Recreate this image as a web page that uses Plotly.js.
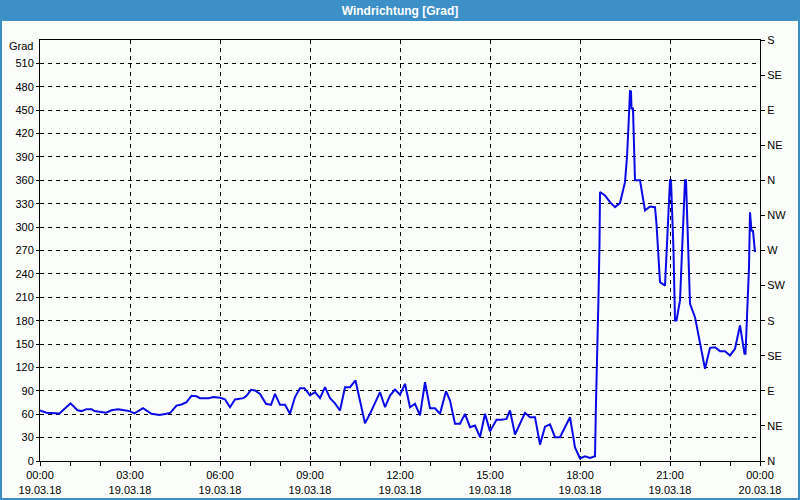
<!DOCTYPE html>
<html>
<head>
<meta charset="utf-8">
<script src="https://cdn.plot.ly/plotly-3.0.1.min.js"></script>
<style>html,body{margin:0;padding:0;background:#fbfdfb;}#chart{width:800px;height:500px;}</style>
</head>
<body>
<div id="chart"></div>
<script>
var day = '2018-03-19 ';
var times = ['00:00','00:13','00:39','01:01','01:15','01:23','01:33','01:43','01:49','02:06','02:12','02:23','02:36','02:49','02:59','03:09','03:26','03:43','03:59','04:13','04:21','04:33','04:43','04:53','05:03','05:13','05:20','05:37','05:47','06:00','06:10','06:20','06:30','06:47','06:53','07:02','07:10','07:20','07:32','07:42','07:50','08:00','08:10','08:20','08:30','08:40','08:49','09:00','09:10','09:20','09:30','09:40','09:50','10:00','10:10','10:20','10:31','10:50','11:00','11:20','11:30','11:40','11:50','12:00','12:10','12:20','12:30','12:40','12:50','13:00','13:10','13:20','13:32','13:40','13:50','14:00','14:10','14:20','14:30','14:40','14:50','15:00','15:13','15:23','15:33','15:40','15:50','16:10','16:20','16:30','16:40','16:50','17:00','17:10','17:20','17:40','17:50','18:00','18:10','18:20','18:30','18:32','18:35','18:37','18:39','18:40','18:50','19:00','19:10','19:20','19:30','19:34','19:37','19:39','19:40','19:42','19:43','19:46','19:50','20:00','20:07','20:10','20:20','20:30','20:33','20:37','20:40','20:50','20:53','20:57','21:00','21:02','21:04','21:07','21:10','21:13','21:20','21:23','21:27','21:30','21:32','21:35','21:37','21:40','21:50','22:00','22:10','22:20','22:30','22:40','22:50','23:00','23:10','23:20','23:27','23:29','23:31','23:33','23:35','23:38','23:40','23:43','23:46','23:50'];
var values = [64.8,62,61,74,65,64,66.5,66.5,64,63,62,65,66.5,65,64,61,67.7,60.5,59,60.5,62,71,72.5,75.5,83.6,83,80.6,80.6,82,81,79,69,79,80.6,83.6,91.3,90.5,86,73.4,72,86,72,72,60.5,82,93.4,93.4,84,88.3,80.6,94.7,80.6,74,64.8,94.7,94.7,103.3,48.5,60.5,88.3,69,84,91.7,85,99,69,73.4,58.4,101,67.7,67.7,60.5,89.6,77.6,47.7,47.7,60.5,43.4,45.5,30.5,60.5,38,52.9,52.9,54,64.8,34,61.8,56.2,56.2,21,44,47,30.5,30.5,56.2,17.5,3.2,6,4,6,75.5,141.8,210,278.7,345,340.6,332,325.6,330.8,357.7,390,430,452,474.5,474,452,452,360,360,334,321.4,326.5,325.6,304,265.8,229.4,225,265.8,330,360,360,330,270,180.3,180.3,206,250,298,360,360,300,250,201.7,184.5,150.4,118.3,145.2,146,140.9,140.9,135.4,144,173.9,146,137.5,137.5,174,210,248.6,319,295.7,295,268];

var xTickTimes = ['2018-03-19 00:00','2018-03-19 03:00','2018-03-19 06:00','2018-03-19 09:00','2018-03-19 12:00','2018-03-19 15:00','2018-03-19 18:00','2018-03-19 21:00','2018-03-20 00:00'];
var xTickText = ['00:00<br>19.03.18','03:00<br>19.03.18','06:00<br>19.03.18','09:00<br>19.03.18','12:00<br>19.03.18','15:00<br>19.03.18','18:00<br>19.03.18','21:00<br>19.03.18','00:00<br>20.03.18'];
var yTicks = [0,30,60,90,120,150,180,210,240,270,300,330,360,390,420,450,480,510];
var dirTicks = [0,45,90,135,180,225,270,315,360,405,450,495,540];
var dirText = ['N','NE','E','SE','S','SW','W','NW','N','NE','E','SE','S'];

var xs = times.map(function(t){ return day + t; });

var font = {family: 'Liberation Sans, Arial, sans-serif', size: 11, color: '#000'};
var trace = {x: xs, y: values, type: 'scatter', mode: 'lines', line: {color: '#0a0ae6', width: 2}, hoverinfo: 'skip'};
var trace2 = {x: [xs[0]], y: [0], yaxis: 'y2', type: 'scatter', mode: 'lines', showlegend: false, hoverinfo: 'skip', line: {width: 0}};

var PT = 40, PB = 39, PH = 500 - PT - PB;
var layout = {
  width: 800, height: 500,
  margin: {l: 40, r: 40, t: PT, b: PB},
  paper_bgcolor: '#fbfdfb', plot_bgcolor: '#fbfdfb',
  showlegend: false,
  font: font,
  title: {text: 'Windrichtung [Grad]', font: {family: 'Liberation Sans, Arial, sans-serif', size: 12, color: '#fff', weight: 'bold'}, x: 0.5, xanchor: 'center', y: 0.979, yanchor: 'middle', yref: 'container'},
  xaxis: {
    type: 'date', range: ['2018-03-19 00:00', '2018-03-20 00:00'],
    tickvals: xTickTimes, ticktext: xTickText,
    ticks: 'outside', ticklen: 4, tickcolor: '#000',
    minor: {dtick: 3600000, tick0: '2018-03-19 00:00', ticks: 'outside', ticklen: 4, tickcolor: '#000', showgrid: false},
    showgrid: true, gridcolor: '#000', gridwidth: 1, griddash: '4px,4px',
    showline: true, linecolor: '#000', linewidth: 1, mirror: true,
    zeroline: false, tickfont: font, fixedrange: true
  },
  yaxis: {
    range: [0, 540], tickvals: yTicks, ticktext: yTicks.map(String),
    ticks: 'outside', ticklen: 3, tickcolor: '#000',
    showgrid: true, gridcolor: '#000', gridwidth: 1, griddash: '4px,4px',
    showline: true, linecolor: '#000', linewidth: 1, mirror: true,
    zeroline: false, tickfont: font, fixedrange: true
  },
  yaxis2: {
    overlaying: 'y', side: 'right', range: [0, 540],
    tickvals: dirTicks, ticktext: dirText,
    ticks: 'outside', ticklen: 4, tickcolor: '#000',
    showgrid: false, zeroline: false, showline: true, linecolor: '#000', linewidth: 1,
    tickfont: font, fixedrange: true
  },
  shapes: [
    {type: 'rect', xref: 'paper', yref: 'paper', x0: -40/720, x1: 1 + 40/720, y0: 1 + (PT - 21)/PH, y1: 1 + PT/PH, fillcolor: '#3c8fc7', line: {width: 0}, layer: 'below'},
    {type: 'rect', xref: 'paper', yref: 'paper', x0: -39/720, x1: 1 + 39/720, y0: -(PB - 1)/PH, y1: 1 + (PT - 1)/PH, fillcolor: 'rgba(0,0,0,0)', line: {color: '#3c8fc7', width: 2}}
  ],
  annotations: [
    {text: 'Grad', xref: 'paper', yref: 'paper', x: -5/720, y: (500 - PB - 46)/PH, xanchor: 'right', yanchor: 'middle', showarrow: false, font: font}
  ]
};

Plotly.newPlot('chart', [trace, trace2], layout, {displayModeBar: false, staticPlot: true});
</script>
</body>
</html>
